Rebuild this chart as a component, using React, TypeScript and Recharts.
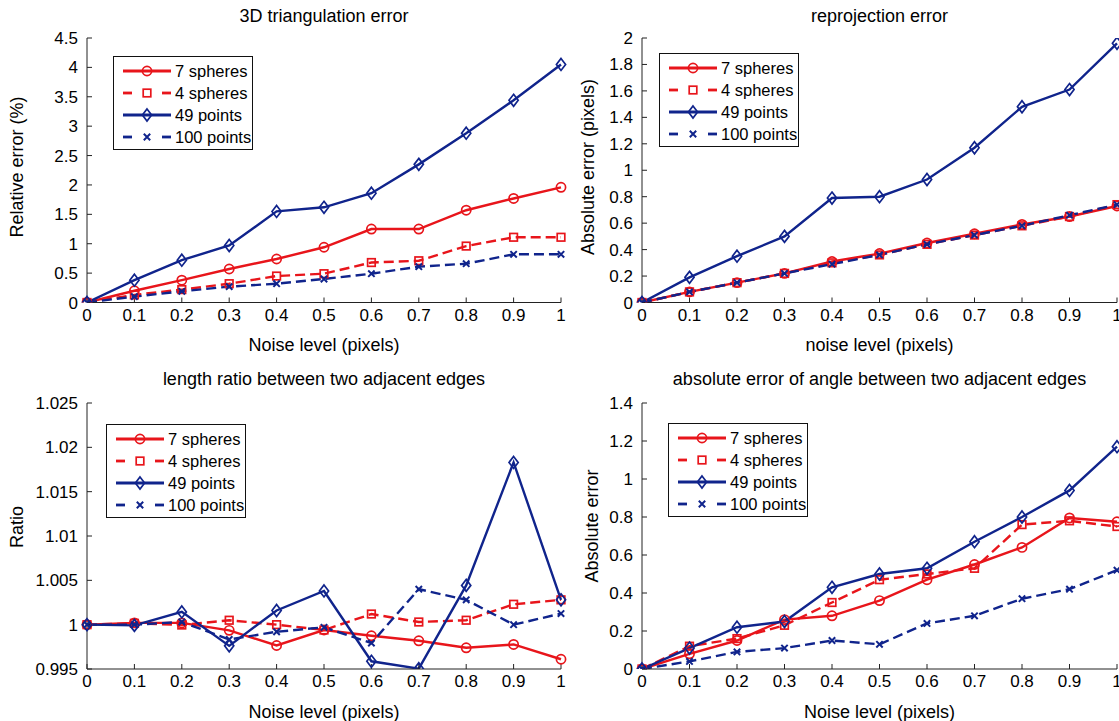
import React from "react";
import { LineChart, Line, XAxis, YAxis, Legend } from "recharts";

const RED = "#e8151b";
const BLUE = "#10248c";
const FONT = '"Liberation Sans", Arial, Helvetica, sans-serif';

// noise level (pixels)
const NOISE = [0, 0.1, 0.2, 0.3, 0.4, 0.5, 0.6, 0.7, 0.8, 0.9, 1];

// 3D triangulation error (%)
const TRI_7S = [0, 0.2, 0.38, 0.57, 0.74, 0.94, 1.25, 1.25, 1.57, 1.77, 1.96];
const TRI_4S = [0, 0.13, 0.22, 0.32, 0.45, 0.49, 0.68, 0.71, 0.96, 1.11, 1.11];
const TRI_49P = [0, 0.38, 0.72, 0.97, 1.55, 1.62, 1.86, 2.35, 2.88, 3.44, 4.05];
const TRI_100P = [0, 0.1, 0.19, 0.27, 0.32, 0.4, 0.49, 0.61, 0.66, 0.82, 0.82];

// reprojection error (pixels)
const REP_7S = [0, 0.08, 0.15, 0.22, 0.31, 0.37, 0.45, 0.52, 0.59, 0.65, 0.73];
const REP_4S = [0, 0.08, 0.15, 0.22, 0.3, 0.36, 0.44, 0.51, 0.58, 0.65, 0.74];
const REP_49P = [0, 0.19, 0.35, 0.5, 0.79, 0.8, 0.93, 1.17, 1.48, 1.61, 1.96];
const REP_100P = [0, 0.08, 0.15, 0.22, 0.29, 0.36, 0.44, 0.51, 0.58, 0.66, 0.74];

// length ratio between two adjacent edges
const RAT_7S = [1, 1.0002, 1.0002, 0.99936, 0.99765, 0.9994, 0.99875, 0.99818, 0.99739, 0.99777, 0.9961];
const RAT_4S = [1, 1.00015, 0.99996, 1.0005, 1.0, 0.9994, 1.0012, 1.0003, 1.0005, 1.0023, 1.0028];
const RAT_49P = [1, 0.99992, 1.00144, 0.99761, 1.0016, 1.0038, 0.99587, 0.99504, 1.00443, 1.0183, 1.0028];
const RAT_100P = [1, 1.0, 1.0003, 0.99833, 0.9992, 0.9997, 0.99792, 1.004, 1.0028, 1.0, 1.00125];

// absolute error of angle
const ANG_7S = [0, 0.08, 0.15, 0.26, 0.28, 0.36, 0.47, 0.55, 0.64, 0.795, 0.775];
const ANG_4S = [0, 0.12, 0.16, 0.23, 0.35, 0.47, 0.5, 0.53, 0.76, 0.78, 0.75];
const ANG_49P = [0, 0.11, 0.22, 0.25, 0.43, 0.5, 0.53, 0.67, 0.8, 0.94, 1.17];
const ANG_100P = [0, 0.04, 0.09, 0.11, 0.15, 0.13, 0.24, 0.28, 0.37, 0.42, 0.52];

const TRI_TICKS = [0, 0.5, 1, 1.5, 2, 2.5, 3, 3.5, 4, 4.5];
const REP_TICKS = [0, 0.2, 0.4, 0.6, 0.8, 1, 1.2, 1.4, 1.6, 1.8, 2];
const RAT_TICKS = [0.995, 1, 1.005, 1.01, 1.015, 1.02, 1.025];
const ANG_TICKS = [0, 0.2, 0.4, 0.6, 0.8, 1, 1.2, 1.4];

const SERIES = [
  { key: "s7", name: "7 spheres", color: RED, dashed: false, marker: "circle" },
  { key: "s4", name: "4 spheres", color: RED, dashed: true, marker: "square" },
  { key: "p49", name: "49 points", color: BLUE, dashed: false, marker: "diamond" },
  { key: "p100", name: "100 points", color: BLUE, dashed: true, marker: "x" },
];

function Marker({ shape, cx, cy, color }: { shape: string; cx: number; cy: number; color: string }) {
  if (cx == null || cy == null) return null;
  if (shape === "circle")
    return <circle cx={cx} cy={cy} r={4.6} fill="none" stroke={color} strokeWidth={1.7} />;
  if (shape === "square")
    return <rect x={cx - 3.8} y={cy - 3.8} width={7.6} height={7.6} fill="none" stroke={color} strokeWidth={1.7} />;
  if (shape === "diamond")
    return (
      <polygon
        points={`${cx},${cy - 6} ${cx + 4.6},${cy} ${cx},${cy + 6} ${cx - 4.6},${cy}`}
        fill="none"
        stroke={color}
        strokeWidth={1.7}
      />
    );
  return (
    <path
      d={`M${cx - 3.2},${cy - 3.2}L${cx + 3.2},${cy + 3.2}M${cx - 3.2},${cy + 3.2}L${cx + 3.2},${cy - 3.2}`}
      stroke={color}
      strokeWidth={2}
    />
  );
}

function LegendBox() {
  return (
    <div
      style={{
        width: 140,
        height: 94,
        boxSizing: "border-box",
        border: "1px solid #111",
        background: "#fff",
        paddingTop: 3,
        fontFamily: FONT,
        fontSize: 16.5,
        color: "#000",
      }}
    >
      {SERIES.map((s) => (
        <div key={s.key} style={{ display: "flex", alignItems: "center", height: 22 }}>
          <svg width={59} height={22} style={{ display: "block", flex: "none" }}>
            {s.dashed ? (
              <g stroke={s.color} strokeWidth={2.8}>
                <line x1={9} y1={11} x2={18} y2={11} />
                <line x1={48} y1={11} x2={57} y2={11} />
              </g>
            ) : (
              <line x1={9} y1={11} x2={57} y2={11} stroke={s.color} strokeWidth={2.8} />
            )}
            <Marker shape={s.marker} cx={33} cy={11} color={s.color} />
          </svg>
          <span style={{ marginLeft: 2, lineHeight: "22px", whiteSpace: "nowrap" }}>{s.name}</span>
        </div>
      ))}
    </div>
  );
}

const fmt = (v: number) => `${+v.toFixed(3)}`;

interface PanelProps {
  title: string;
  xLabel: string;
  yLabel: string;
  plot: { x: number; y: number; w: number; h: number };
  titleY: number;
  yLabelPos: { x: number; y: number };
  legendPos: { x: number; y: number };
  yTicks: number[];
  values: number[][];
}

const LABEL_SIZE = 18;

function Panel({ title, xLabel, yLabel, plot, titleY, yLabelPos, legendPos, yTicks, values }: PanelProps) {
  const left = plot.x - 87;
  const top = plot.y - 38;
  const width = 87 + plot.w + 14;
  const height = 38 + plot.h + 62;
  const data = NOISE.map((x, i) => ({
    x,
    s7: values[0][i],
    s4: values[1][i],
    p49: values[2][i],
    p100: values[3][i],
  }));
  const domain: [number, number] = [yTicks[0], yTicks[yTicks.length - 1]];
  const tickStyle = { fontSize: 17, fill: "#000", fontFamily: FONT };
  const textStyle: React.CSSProperties = {
    position: "absolute",
    lineHeight: "22px",
    fontSize: LABEL_SIZE,
    fontFamily: FONT,
    whiteSpace: "nowrap",
    color: "#000",
  };
  return (
    <div style={{ position: "absolute", left, top, width, height }}>
      <LineChart width={width} height={height} data={data} margin={{ top: 38, left: 0, right: 14, bottom: 0 }}>
        <XAxis
          dataKey="x"
          type="number"
          domain={[0, 1]}
          ticks={NOISE}
          tickFormatter={fmt}
          tick={tickStyle}
          height={62}
          stroke="#222"
          tickSize={-5}
          tickMargin={11}
          interval={0}
        />
        <XAxis
          xAxisId="top"
          orientation="top"
          dataKey="x"
          type="number"
          domain={[0, 1]}
          ticks={NOISE}
          tickFormatter={() => ""}
          height={0}
          stroke="#222"
          tickSize={-5}
          interval={0}
        />
        <YAxis
          type="number"
          domain={domain}
          ticks={yTicks}
          tickFormatter={fmt}
          tick={tickStyle}
          width={87}
          stroke="#222"
          tickSize={-5}
          tickMargin={14}
          interval={0}
          allowDataOverflow
        />
        <YAxis
          yAxisId="right"
          orientation="right"
          type="number"
          domain={domain}
          ticks={yTicks}
          tickFormatter={() => ""}
          width={0}
          stroke="#222"
          tickSize={-5}
          interval={0}
        />
        <Legend
          layout="vertical"
          align="center"
          verticalAlign="middle"
          content={() => <LegendBox />}
          wrapperStyle={{ left: legendPos.x - left, top: legendPos.y - top, width: 140, height: 94 }}
        />
        {SERIES.map((s) => (
          <Line
            key={s.key}
            dataKey={s.key}
            name={s.name}
            type="linear"
            stroke={s.color}
            strokeWidth={2.4}
            strokeDasharray={s.dashed ? "10 5" : undefined}
            dot={(p: any) => <Marker key={`${s.key}-${p.index}`} shape={s.marker} cx={p.cx} cy={p.cy} color={s.color} />}
            activeDot={false}
            isAnimationActive={false}
          />
        ))}
      </LineChart>
      <div style={{ ...textStyle, left: 87, width: plot.w, top: titleY - top - 11, textAlign: "center" }}>{title}</div>
      <div style={{ ...textStyle, left: 87, width: plot.w, top: 38 + plot.h + 42.5 - 11, textAlign: "center" }}>
        {xLabel}
      </div>
      <div
        style={{
          ...textStyle,
          left: yLabelPos.x - left,
          top: yLabelPos.y - top,
          transform: "translate(-50%, -50%) rotate(-90deg)",
        }}
      >
        {yLabel}
      </div>
    </div>
  );
}

export default function App() {
  return (
    <div
      style={{
        position: "absolute",
        left: 0,
        top: 0,
        width: 1119,
        height: 721,
        background: "#fff",
        overflow: "hidden",
        fontFamily: FONT,
      }}
    >
      <Panel
        title="3D triangulation error"
        xLabel="Noise level (pixels)"
        yLabel="Relative error (%)"
        plot={{ x: 87, y: 38, w: 474, h: 264.5 }}
        titleY={16}
        yLabelPos={{ x: 17, y: 167 }}
        legendPos={{ x: 113, y: 56 }}
        yTicks={TRI_TICKS}
        values={[TRI_7S, TRI_4S, TRI_49P, TRI_100P]}
      />
      <Panel
        title="reprojection error"
        xLabel="noise level (pixels)"
        yLabel="Absolute error (pixels)"
        plot={{ x: 642, y: 38, w: 475, h: 264.5 }}
        titleY={16}
        yLabelPos={{ x: 588, y: 167 }}
        legendPos={{ x: 659, y: 53 }}
        yTicks={REP_TICKS}
        values={[REP_7S, REP_4S, REP_49P, REP_100P]}
      />
      <Panel
        title="length ratio between two adjacent edges"
        xLabel="Noise level (pixels)"
        yLabel="Ratio"
        plot={{ x: 87, y: 403, w: 474, h: 266 }}
        titleY={379}
        yLabelPos={{ x: 17, y: 527 }}
        legendPos={{ x: 106, y: 424 }}
        yTicks={RAT_TICKS}
        values={[RAT_7S, RAT_4S, RAT_49P, RAT_100P]}
      />
      <Panel
        title="absolute error of angle between two adjacent edges"
        xLabel="Noise level (pixels)"
        yLabel="Absolute error"
        plot={{ x: 642, y: 403, w: 475, h: 266 }}
        titleY={379}
        yLabelPos={{ x: 592, y: 526 }}
        legendPos={{ x: 668, y: 423 }}
        yTicks={ANG_TICKS}
        values={[ANG_7S, ANG_4S, ANG_49P, ANG_100P]}
      />
    </div>
  );
}
